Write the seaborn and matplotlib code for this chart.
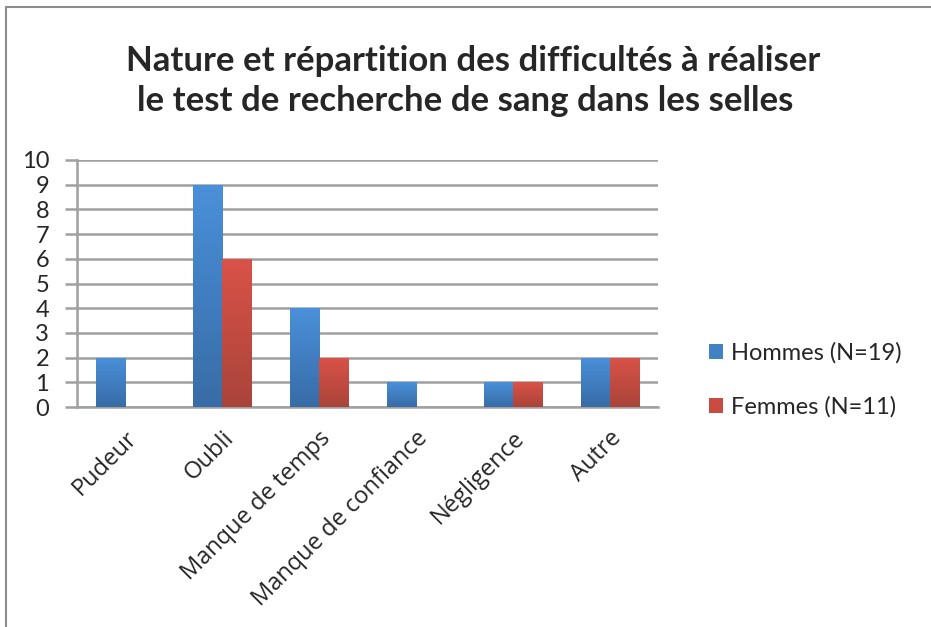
import numpy as np
import pandas as pd
import matplotlib
matplotlib.use("Agg")
import matplotlib.pyplot as plt
import seaborn as sns
from matplotlib.colors import LinearSegmentedColormap
from matplotlib.patches import Patch
from matplotlib.lines import Line2D

categories = ["Pudeur", "Oubli", "Manque de temps", "Manque de confiance", "Négligence", "Autre"]
hommes = [2, 9, 4, 1, 1, 2]
femmes = [0, 6, 2, 0, 1, 2]
series = ["Hommes (N=19)", "Femmes (N=11)"]
yticks = list(range(0, 11))

df = pd.DataFrame({
    "cat": categories * 2,
    "val": hommes + femmes,
    "serie": [series[0]] * len(categories) + [series[1]] * len(categories),
})

sns.set_theme(style="white")
plt.rcParams["font.family"] = ["Lato", "DejaVu Sans"]

W, H = 931, 627
fig = plt.figure(figsize=(W / 100, H / 100), dpi=100)
ax = fig.add_axes([77 / W, 1 - 407 / H, (658 - 77) / W, (407 - 160) / H])

blue_top, blue_bot = "#4a90da", "#386ca6"
red_top, red_bot = "#da5248", "#a9443a"
palette = {series[0]: "#4181c4", series[1]: "#c84c42"}

sns.barplot(data=df, x="cat", y="val", hue="serie", palette=palette,
            width=0.6, dodge=True, ax=ax, legend=False, saturation=1)

grads = [(blue_bot, blue_top), (red_bot, red_top)]
grad = np.linspace(0, 1, 256).reshape(-1, 1)
for cont, (cb, ct) in zip(ax.containers, grads):
    cmap = LinearSegmentedColormap.from_list("g", [cb, ct])
    for rect in cont:
        x0, y0 = rect.get_x(), rect.get_y()
        w, h = rect.get_width(), rect.get_height()
        rect.set_facecolor("none")
        rect.set_edgecolor("none")
        if h <= 0:
            continue
        ax.add_patch(plt.Rectangle((x0 + 0.01, y0 - 0.06), w, h, facecolor="#000000",
                                   alpha=0.06, edgecolor="none", zorder=2))
        im = ax.imshow(grad, extent=[x0, x0 + w, y0, y0 + h], aspect="auto",
                       cmap=cmap, origin="lower", zorder=3, interpolation="bilinear")
        im.set_clip_path(rect)

ax.set_xlim(-0.5, len(categories) - 0.5)
ax.set_ylim(0, 10)
ax.set_yticks(yticks)
ax.set_yticklabels([str(t) for t in yticks], fontsize=17)
ax.yaxis.grid(True, color="#a0a0a0", linewidth=1.8)
ax.set_axisbelow(True)
ax.tick_params(axis="y", length=9, width=1.8, color="#a0a0a0", pad=11, left=True)
ax.tick_params(axis="x", length=0, pad=14)
ax.set_xlabel("")
ax.set_ylabel("")
ax.set_xticks(range(len(categories)))
ax.set_xticklabels(categories, rotation=45, ha="right", rotation_mode="anchor",
                   fontsize=17, family=["Open Sans", "DejaVu Sans"])
for side in ["top", "right"]:
    ax.spines[side].set_visible(False)
ax.spines["left"].set_color("#a0a0a0")
ax.spines["left"].set_linewidth(1.8)
ax.spines["bottom"].set_color("#a0a0a0")
ax.spines["bottom"].set_linewidth(1.8)

fig.text(0.5 + 8 / W, 1 - 61 / H, "Nature et répartition des difficultés à réaliser",
         ha="center", va="center", fontsize=25, fontweight="bold")
fig.text(0.5, 1 - 101 / H, "le test de recherche de sang dans les selles",
         ha="center", va="center", fontsize=25, fontweight="bold")

handles = [Patch(facecolor=palette[s], edgecolor="none") for s in series]
fig.legend(handles, series, loc="center left", bbox_to_anchor=(709 / W, 1 - 380 / H),
           frameon=False, fontsize=17, handlelength=0.6, handleheight=0.6,
           handletextpad=0.35, labelspacing=1.35, borderpad=0, borderaxespad=0)

fig.add_artist(Line2D([6 / W, 6 / W], [0, 1 - 7 / H], transform=fig.transFigure,
                      color="#8c8c8c", linewidth=1.5))
fig.add_artist(Line2D([6 / W, 1], [1 - 7 / H, 1 - 7 / H], transform=fig.transFigure,
                      color="#8c8c8c", linewidth=1.5))

fig.savefig("out.png", dpi=100, facecolor="white")
